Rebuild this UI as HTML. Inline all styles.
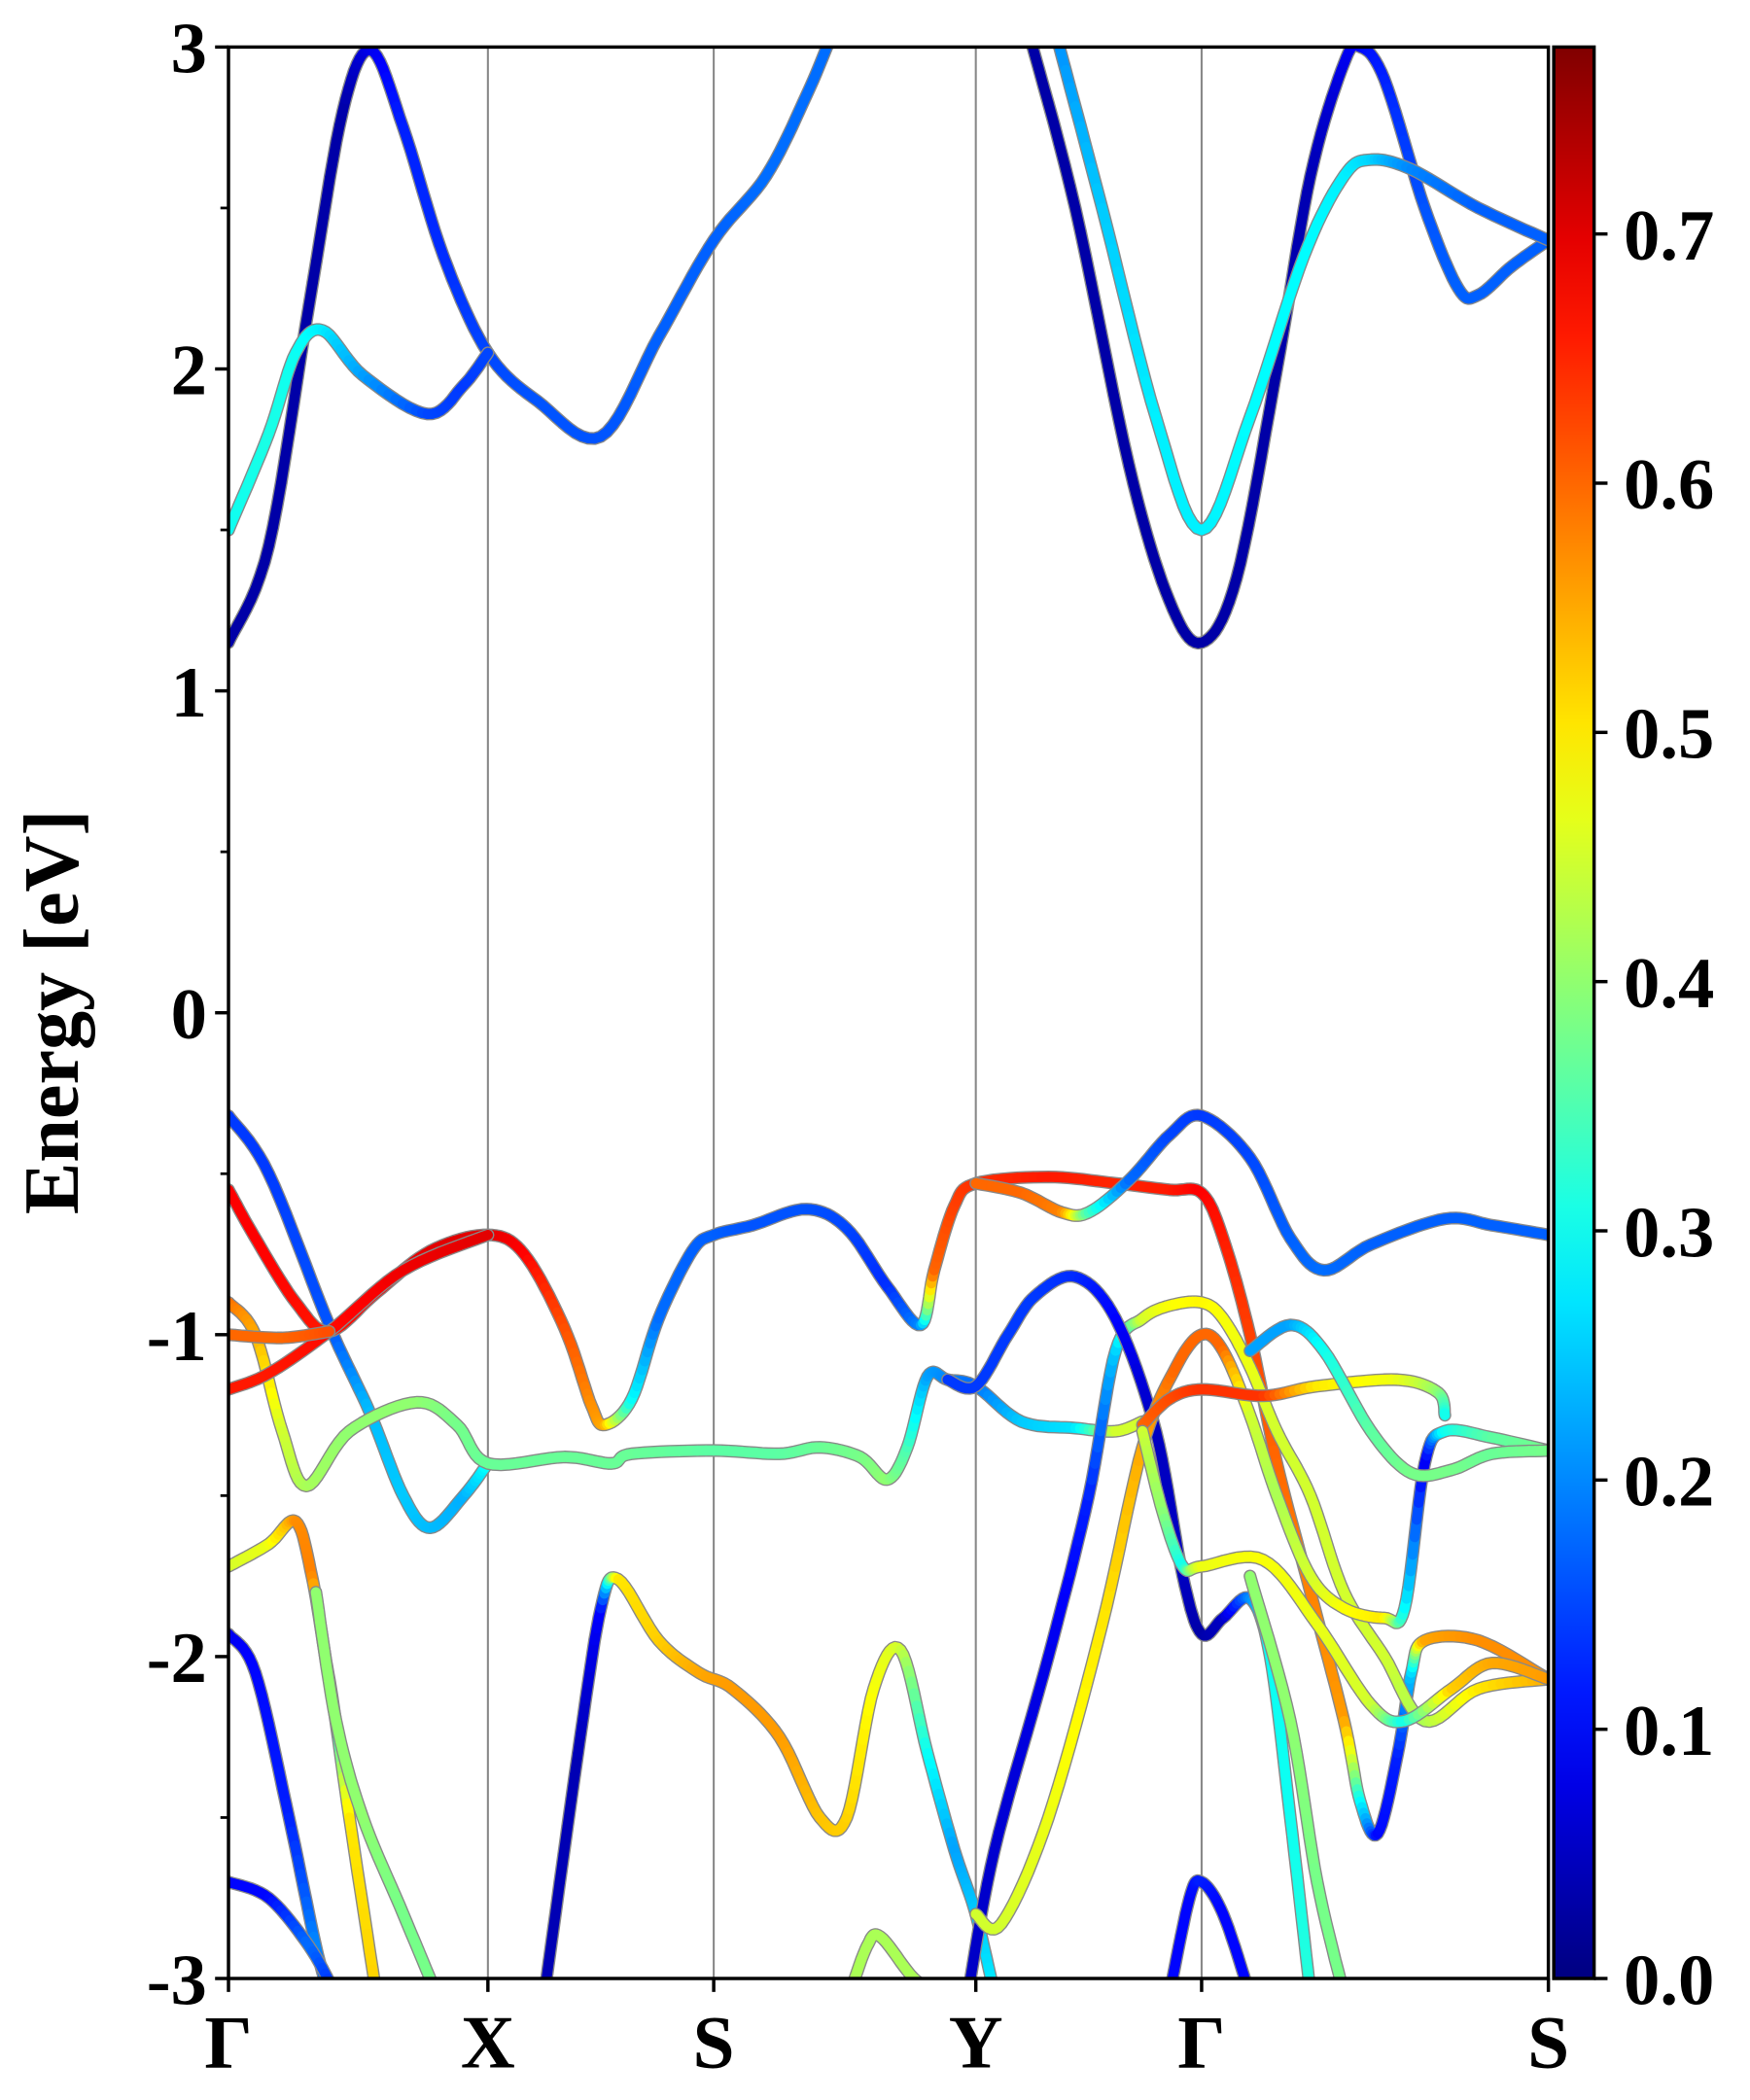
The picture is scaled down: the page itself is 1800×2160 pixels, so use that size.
<!DOCTYPE html>
<html><head><meta charset="utf-8">
<style>
html,body{margin:0;padding:0;background:#fff;}
svg{display:block;}
text{font-family:"Liberation Serif",serif;font-weight:bold;fill:#000;}
</style></head>
<body>
<svg id="chart" width="1800" height="2160" viewBox="0 0 1302 1562.4" xmlns="http://www.w3.org/2000/svg">
<defs><linearGradient id="cbgrad" x1="0" y1="1" x2="0" y2="0"></linearGradient>
<clipPath id="plotclip"><rect x="170" y="35" width="982" height="1437"/></clipPath></defs>
<g id="grid"></g>
<g id="bands" clip-path="url(#plotclip)"></g>
<rect x="170" y="35" width="982" height="1437" fill="none" stroke="#000" stroke-width="2.5"/>
<g id="yaxis"></g>
<g id="xaxis"></g>
<text x="58" y="753" transform="rotate(-90 58 753)" text-anchor="middle" font-size="58">Energy [eV]</text>
<g id="cbar"></g>
</svg>
<script>
// ---- data ----
const kLabels = ["Γ","X","S","Y","Γ","S"];
const kTicks = [0,193,361,556,724,982];
const yTicks = [-3,-2,-1,0,1,2,3];
const yMinor = [-2.5,-1.5,-0.5,0.5,1.5,2.5];
const cbTicks = [0.0,0.1,0.2,0.3,0.4,0.5,0.6,0.7];
const cbMax = 0.775;
// bands: [k, energy(eV), weight]
const bandC1 = [[0,1.15,0.03],[30,1.45,0.03],[60,2.2,0.03],[85,2.8,0.03],[106,2.99,0.08],[130,2.75,0.12],[160,2.35,0.13],[193,2.05,0.15],[230,1.9,0.16],[277,1.79,0.16],[320,2.1,0.17],[361,2.40,0.17],[400,2.6,0.18],[430,2.85,0.18],[450,3.05,0.18]];
const bandC2 = [[0,1.5,0.3],[30,1.8,0.31],[50,2.05,0.3],[70,2.12,0.28],[100,1.98,0.22],[148,1.86,0.15],[175,1.95,0.14],[193,2.05,0.15]];
const bandC3 = [[595,3.05,0.03],[630,2.5,0.03],[670,1.7,0.03],[700,1.28,0.03],[724,1.15,0.03],[750,1.35,0.03],[780,2.0,0.03],[805,2.6,0.04],[830,2.95,0.08],[842,3.0,0.1],[860,2.9,0.12],[890,2.5,0.16],[915,2.25,0.17],[930,2.23,0.17],[955,2.32,0.17],[982,2.40,0.17]];
const bandC4 = [[615,3.05,0.2],[650,2.5,0.25],[690,1.85,0.28],[724,1.5,0.28],[760,1.85,0.29],[800,2.35,0.29],[830,2.6,0.28],[850,2.65,0.26],[880,2.62,0.2],[930,2.5,0.17],[982,2.40,0.17]];
const bandV1 = [[0,-0.32,0.14],[30,-0.5,0.14],[75,-0.97,0.16],[105,-1.24,0.24],[130,-1.5,0.25],[150,-1.6,0.24],[175,-1.5,0.23],[193,-1.40,0.3]];
const bandV2 = [[0,-0.9,0.6],[20,-1.0,0.55],[40,-1.3,0.45],[58,-1.47,0.42],[90,-1.3,0.4],[140,-1.21,0.4],[170,-1.28,0.38],[193,-1.40,0.37],[250,-1.38,0.37],[285,-1.40,0.37],[300,-1.37,0.37],[361,-1.36,0.36],[410,-1.37,0.36],[440,-1.35,0.37],[470,-1.38,0.38],[490,-1.45,0.4],[505,-1.35,0.35],[520,-1.13,0.22],[535,-1.14,0.2],[556,-1.16,0.18],[590,-1.27,0.25],[630,-1.29,0.27],[660,-1.30,0.45],[680,-1.27,0.45]];
const bandV3 = [[0,-0.55,0.68],[20,-0.7,0.68],[50,-0.9,0.67],[75,-0.99,0.66],[110,-0.87,0.68],[150,-0.74,0.7],[193,-0.69,0.7],[220,-0.75,0.68],[250,-0.98,0.62],[270,-1.22,0.57],[280,-1.28,0.55],[300,-1.2,0.3],[320,-0.95,0.18],[345,-0.74,0.17],[361,-0.69,0.17],[390,-0.66,0.16],[430,-0.61,0.16],[460,-0.67,0.15],[490,-0.85,0.13],[515,-0.97,0.2],[525,-0.8,0.6],[540,-0.6,0.63],[556,-0.53,0.64],[610,-0.51,0.66],[660,-0.53,0.65],[700,-0.55,0.66],[724,-0.56,0.68],[740,-0.7,0.66],[760,-1.0,0.63],[780,-1.4,0.6],[805,-1.8,0.58],[830,-2.2,0.56],[842,-2.45,0.3],[855,-2.55,0.1],[870,-2.3,0.12],[880,-2.05,0.25],[890,-1.95,0.55],[930,-1.95,0.57],[982,-2.07,0.57]];
const bandV4 = [[0,-1.17,0.66],[30,-1.12,0.66],[75,-0.99,0.67],[130,-0.8,0.69],[193,-0.69,0.7]];
const bandV5 = [[0,-1.0,0.6],[40,-1.01,0.6],[75,-0.99,0.62]];
const bandV7 = [[0,-1.72,0.45],[30,-1.65,0.47],[50,-1.58,0.57],[62,-1.75,0.58],[72,-2.0,0.4],[78,-2.15,0.25],[90,-2.5,0.5],[110,-3.05,0.52]];
const bandV8 = [[65,-1.8,0.4],[80,-2.2,0.4],[100,-2.5,0.4],[130,-2.8,0.38],[155,-3.05,0.38]];
const bandV9 = [[0,-1.93,0.08],[20,-2.05,0.1],[45,-2.5,0.12],[65,-2.9,0.2],[75,-3.05,0.15]];
const bandV10 = [[0,-2.7,0.1],[30,-2.75,0.1],[60,-2.9,0.18],[80,-3.05,0.12]];
const bandV11 = [[235,-3.05,0.04],[260,-2.3,0.04],[277,-1.85,0.1],[290,-1.76,0.5],[320,-1.95,0.52],[350,-2.05,0.55],[375,-2.1,0.56],[410,-2.25,0.56],[440,-2.5,0.53],[460,-2.5,0.52],[480,-2.1,0.48],[500,-1.98,0.45],[520,-2.3,0.3],[540,-2.6,0.22],[556,-2.8,0.25],[570,-3.05,0.28]];
const bandV12 = [[462,-3.05,0.42],[475,-2.9,0.42],[485,-2.87,0.42],[510,-3.0,0.42],[530,-3.05,0.42]];
const bandV13 = [[550,-3.05,0.05],[570,-2.6,0.06],[610,-2.0,0.08],[640,-1.5,0.12],[660,-1.05,0.25],[680,-0.95,0.45],[700,-0.91,0.48],[724,-0.9,0.49],[740,-0.95,0.48],[760,-1.1,0.47],[780,-1.3,0.45],[805,-1.5,0.45],[830,-1.8,0.45],[860,-2.0,0.45],[890,-2.2,0.42],[930,-2.1,0.5],[982,-2.07,0.55]];
const bandV14 = [[535,-1.14,0.14],[556,-1.16,0.14],[580,-1.0,0.14],[600,-0.88,0.14],[630,-0.82,0.13],[660,-0.95,0.1],[690,-1.3,0.05],[710,-1.75,0.05],[724,-1.93,0.03],[740,-1.88,0.05],[760,-1.82,0.2],[775,-2.0,0.3],[790,-2.5,0.3],[805,-3.05,0.32]];
const bandV15 = [[556,-0.53,0.6],[590,-0.56,0.6],[620,-0.62,0.58],[640,-0.62,0.35],[670,-0.52,0.18],[700,-0.38,0.15],[724,-0.32,0.14],[760,-0.45,0.15],[790,-0.7,0.17],[815,-0.8,0.18],[850,-0.72,0.17],[905,-0.64,0.17],[940,-0.66,0.17],[982,-0.69,0.17]];
const bandV16 = [[556,-2.8,0.45],[575,-2.83,0.45],[610,-2.5,0.47],[650,-1.9,0.5],[680,-1.35,0.55],[705,-1.1,0.6],[724,-1.0,0.6],[740,-1.05,0.6],[760,-1.25,0.45],[780,-1.5,0.42],[805,-1.75,0.45],[830,-1.85,0.48],[860,-1.88,0.5],[875,-1.85,0.3],[890,-1.4,0.08],[905,-1.3,0.3],[940,-1.32,0.36],[982,-1.36,0.38]];
const bandV17 = [[680,-1.28,0.6],[700,-1.2,0.62],[724,-1.17,0.64],[770,-1.19,0.64],[810,-1.16,0.5],[870,-1.14,0.47],[900,-1.18,0.4],[905,-1.25,0.3]];
const bandV18 = [[680,-1.3,0.45],[695,-1.55,0.4],[710,-1.72,0.3],[724,-1.72,0.47],[770,-1.7,0.48],[810,-1.9,0.47],[850,-2.15,0.45],[875,-2.2,0.3],[910,-2.1,0.52],[940,-2.02,0.55],[982,-2.07,0.56]];
const bandV19 = [[760,-1.75,0.4],[790,-2.2,0.4],[810,-2.7,0.38],[830,-3.05,0.38]];
const bandV20 = [[700,-3.05,0.1],[715,-2.75,0.1],[724,-2.7,0.12],[740,-2.8,0.1],[760,-3.05,0.1]];
const bandV21 = [[760,-1.05,0.22],[790,-0.97,0.22],[815,-1.05,0.3],[850,-1.3,0.36],[880,-1.43,0.38],[910,-1.42,0.38],[940,-1.37,0.37],[982,-1.36,0.38]];
const allBands = [bandC1,bandC2,bandC3,bandC4,bandV1,bandV2,bandV3,bandV4,bandV5,bandV7,bandV8,bandV9,bandV10,bandV11,bandV12,bandV13,bandV14,bandV15,bandV16,bandV17,bandV18,bandV19,bandV20,bandV21];

// ---- scales ----
const X0=170, X1=1152, Y0=35, Y1=1472;
const kMax = kTicks[kTicks.length-1];
function xs(k){return X0+(k/kMax)*(X1-X0);}
function ys(e){return Y1-(e+3)/6*(Y1-Y0);}
function jet(v){
  const t=Math.max(0,Math.min(1,v/cbMax));
  function c(x){return Math.max(0,Math.min(1,1.5-Math.abs(4*t-x)));}
  const r=c(3),g=c(2),b=c(1);
  return `rgb(${Math.round(r*255)},${Math.round(g*255)},${Math.round(b*255)})`;
}
const NS="http://www.w3.org/2000/svg";
function mk(tag,attrs,parent){const el=document.createElementNS(NS,tag);for(const a in attrs)el.setAttribute(a,attrs[a]);parent.appendChild(el);return el;}

// gridlines
const grid=document.getElementById('grid');
kTicks.slice(1,-1).forEach(k=>{
  const l=mk('line',{x1:xs(k),x2:xs(k),y1:Y0,y2:Y1,stroke:'#888','stroke-width':1.5},grid);
  
  
});

// bands
const bg=document.getElementById('bands');
function cr(p0,p1,p2,p3,t){const t2=t*t,t3=t2*t;return 0.5*((2*p1)+(-p0+p2)*t+(2*p0-5*p1+4*p2-p3)*t2+(-p0+3*p1-3*p2+p3)*t3);}
allBands.forEach((band,bi)=>{
  const g=mk('g',{},bg);
  
  
  const pts=[];
  for(let i=0;i<band.length-1;i++){
    const p0=band[Math.max(0,i-1)],p1=band[i],p2=band[i+1],p3=band[Math.min(band.length-1,i+2)];
    const n=10;
    for(let s=0;s<n;s++){const t=s/n;
      pts.push([cr(xs(p0[0]),xs(p1[0]),xs(p2[0]),xs(p3[0]),t),cr(ys(p0[1]),ys(p1[1]),ys(p2[1]),ys(p3[1]),t),p1[2]+(p2[2]-p1[2])*t]);}
  }
  const last=band[band.length-1];pts.push([xs(last[0]),ys(last[1]),last[2]]);
  const d=pts.map((p,i)=>(i?'L':'M')+p[0].toFixed(1)+' '+p[1].toFixed(1)).join('');
  mk('path',{d:d,fill:'none',stroke:'#888','stroke-width':9.5,'stroke-linecap':'round','stroke-linejoin':'round'},g);
  for(let i=0;i<pts.length-1;i++){
    mk('line',{x1:pts[i][0].toFixed(1),y1:pts[i][1].toFixed(1),x2:pts[i+1][0].toFixed(1),y2:pts[i+1][1].toFixed(1),stroke:jet((pts[i][2]+pts[i+1][2])/2),'stroke-width':7.5,'stroke-linecap':'round'},g);
  }
});

// y axis
const ya=document.getElementById('yaxis');
yTicks.forEach(v=>{
  const y=ys(v);
  const l=mk('line',{x1:X0-10,x2:X0,y1:y,y2:y,stroke:'#000','stroke-width':2.5},ya);
  
  
  const t=mk('text',{x:X0-16,y:y+19,'text-anchor':'end','font-size':54},ya);
  t.textContent=String(v);
  
  
});
yMinor.forEach(v=>{
  const l=mk('line',{x1:X0-6,x2:X0,y1:ys(v),y2:ys(v),stroke:'#000','stroke-width':2},ya);
  
  
});
// x axis
const xa=document.getElementById('xaxis');
kTicks.forEach((k,i)=>{
  const l=mk('line',{x1:xs(k),x2:xs(k),y1:Y1,y2:Y1+10,stroke:'#000','stroke-width':2.5},xa);
  
  
  const t=mk('text',{x:xs(k),y:Y1+66,'text-anchor':'middle','font-size':56},xa);
  t.textContent=kLabels[i];
  
  
});
// colorbar
const grad=document.getElementById('cbgrad');
for(let i=0;i<=20;i++){mk('stop',{offset:(i/20),'stop-color':jet(i/20*cbMax)},grad);}
const cb=document.getElementById('cbar');
const CBX=1156,CBW=30;
const rect=mk('rect',{x:CBX,y:Y0,width:CBW,height:Y1-Y0,fill:'url(#cbgrad)',stroke:'#000','stroke-width':2.5},cb);


function cys(v){return Y1-(v/cbMax)*(Y1-Y0);}
cbTicks.forEach(v=>{
  const y=cys(v);
  const l=mk('line',{x1:CBX+CBW,x2:CBX+CBW+10,y1:y,y2:y,stroke:'#000','stroke-width':2.5},cb);
  
  
  const t=mk('text',{x:CBX+CBW+22,y:y+19,'font-size':54},cb);
  t.textContent=v.toFixed(1);
  
  
});
</script>
</body></html>
